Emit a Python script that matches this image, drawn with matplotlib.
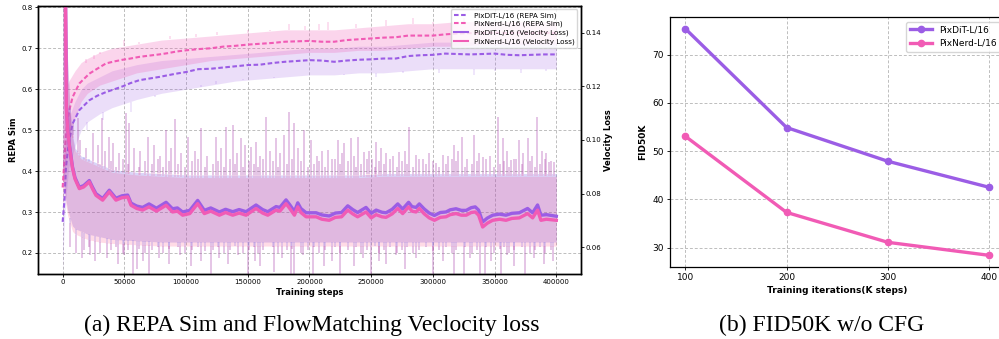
import numpy as np
import matplotlib
matplotlib.use("Agg")
import matplotlib.pyplot as plt
from matplotlib.lines import Line2D

# ---------------- data: panel (a) ----------------
repa_steps = [0, 1500, 2700, 4000, 5400, 8100, 13500, 21600, 28000, 35100,
              42000, 48600, 55000, 62100, 70000, 78300, 85000, 92000, 100000, 110000,
              120000, 130000, 140000, 150000, 160000, 170000, 180000, 190000, 200000, 210000,
              220000, 230000, 240000, 250000, 260000, 270000, 280000, 290000, 300000, 310000,
              320000, 330000, 340000, 350000, 360000, 370000, 380000, 390000, 400000]
pixnerd_repa = [0.360, 0.430, 0.492, 0.525, 0.549, 0.581, 0.614, 0.638, 0.650, 0.663,
                0.668, 0.672, 0.675, 0.679, 0.682, 0.685, 0.688, 0.692, 0.695, 0.698,
                0.700, 0.704, 0.706, 0.709, 0.711, 0.713, 0.716, 0.717, 0.718, 0.716,
                0.716, 0.720, 0.722, 0.724, 0.726, 0.727, 0.731, 0.731, 0.731, 0.734,
                0.736, 0.737, 0.737, 0.738, 0.737, 0.738, 0.737, 0.738, 0.737]
pixdit_repa = [0.276, 0.330, 0.410, 0.445, 0.476, 0.516, 0.549, 0.573, 0.584, 0.593,
               0.600, 0.607, 0.615, 0.622, 0.626, 0.630, 0.634, 0.638, 0.642, 0.649,
               0.650, 0.653, 0.656, 0.659, 0.660, 0.664, 0.667, 0.669, 0.671, 0.670,
               0.667, 0.670, 0.672, 0.673, 0.675, 0.675, 0.681, 0.683, 0.684, 0.687,
               0.686, 0.685, 0.686, 0.687, 0.684, 0.683, 0.684, 0.685, 0.685]

repa_band_steps = [0, 1000, 2500, 5000, 10000, 15000, 20000, 30000, 40000, 60000,
                   80000, 100000, 120000, 140000, 160000, 180000, 200000, 220000, 240000,
                   260000, 280000, 300000, 320000, 340000, 360000, 380000, 400000]
pixnerd_repa_hi = [0.40, 0.55, 0.60, 0.62, 0.645, 0.665, 0.675, 0.69, 0.70, 0.71,
                   0.72, 0.725, 0.73, 0.735, 0.74, 0.745, 0.745, 0.745, 0.75,
                   0.755, 0.76, 0.76, 0.765, 0.765, 0.765, 0.765, 0.765]
pixnerd_repa_lo = [0.30, 0.35, 0.42, 0.50, 0.53, 0.57, 0.59, 0.61, 0.62, 0.64,
                   0.65, 0.66, 0.67, 0.675, 0.68, 0.685, 0.69, 0.69, 0.695,
                   0.695, 0.70, 0.705, 0.705, 0.71, 0.71, 0.71, 0.71]
pixdit_repa_hi = [0.30, 0.42, 0.48, 0.53, 0.57, 0.60, 0.615, 0.63, 0.645, 0.66,
                  0.67, 0.675, 0.68, 0.685, 0.69, 0.695, 0.70, 0.70, 0.705,
                  0.705, 0.71, 0.715, 0.715, 0.715, 0.715, 0.715, 0.715]
pixdit_repa_lo = [0.15, 0.25, 0.33, 0.41, 0.46, 0.50, 0.52, 0.54, 0.555, 0.575,
                  0.59, 0.60, 0.61, 0.62, 0.625, 0.63, 0.635, 0.635, 0.64,
                  0.64, 0.645, 0.65, 0.65, 0.65, 0.65, 0.65, 0.65]

pixnerd_repa_spike_steps = [19000, 25000, 30000, 50000, 62000, 87000, 108000, 125000, 150000, 168000,
                            183000, 196000, 208000, 215000, 238000, 262000, 284000, 300000, 325000]
pixnerd_repa_spike_vals = [0.665, 0.675, 0.685, 0.72, 0.715, 0.73, 0.735, 0.74, 0.745, 0.745,
                           0.76, 0.755, 0.76, 0.765, 0.76, 0.77, 0.775, 0.765, 0.775]
pixdit_repa_spike_steps = [20000, 33000, 55000, 75000, 94000, 112000, 124000, 146000, 171000,
                           199000, 228000, 254000, 276000, 305000, 333000, 350000, 371000, 392000]
pixdit_repa_spike_vals = [0.50, 0.525, 0.545, 0.58, 0.60, 0.61, 0.62, 0.625, 0.63,
                          0.635, 0.635, 0.63, 0.64, 0.64, 0.635, 0.645, 0.64, 0.645]

loss_steps = [0, 1500, 3000, 4000, 5500, 8000, 10000, 13500, 17000, 21600,
              24000, 27000, 32400, 37800, 43200, 48000, 52700, 55400, 60000, 64800,
              70000, 76000, 83800, 89000, 93000, 97200, 103000, 109400, 114800, 120000,
              127000, 132000, 137800, 143000, 148600, 156700, 162000, 166200, 172900, 176000,
              181000, 184000, 187800, 190500, 193000, 197300, 205400, 210000, 216000, 221000,
              226000, 231000, 235000, 239000, 245800, 250000, 254000, 258700, 262000, 267000,
              271500, 275500, 280300, 283000, 286300, 289000, 293000, 297000, 301200, 306000,
              310600, 314000, 318700, 323000, 327000, 331000, 334300, 337000, 340300, 344000,
              348400, 354000, 359200, 364000, 370000, 376700, 380800, 384800, 387500, 392000,
              400000]
pixnerd_loss = [0.300, 0.200, 0.112, 0.104, 0.0975, 0.0894, 0.0855, 0.0819, 0.0825, 0.0844,
                0.0820, 0.0794, 0.0776, 0.0807, 0.0776, 0.0785, 0.0788, 0.0757, 0.0745, 0.0739,
                0.0751, 0.0735, 0.0757, 0.0732, 0.0735, 0.0720, 0.0726, 0.0763, 0.0726, 0.0735,
                0.0720, 0.0730, 0.0720, 0.0728, 0.0720, 0.0745, 0.0728, 0.0720, 0.0739, 0.0735,
                0.0763, 0.0745, 0.0720, 0.0751, 0.0730, 0.0714, 0.0714, 0.0705, 0.0701, 0.0712,
                0.0714, 0.0739, 0.0725, 0.0714, 0.0732, 0.0710, 0.0722, 0.0714, 0.0712, 0.0725,
                0.0745, 0.0726, 0.0751, 0.0735, 0.0732, 0.0745, 0.0725, 0.0710, 0.0701, 0.0712,
                0.0714, 0.0722, 0.0726, 0.0720, 0.0720, 0.0730, 0.0732, 0.0720, 0.0676, 0.0690,
                0.0701, 0.0705, 0.0701, 0.0708, 0.0710, 0.0726, 0.0710, 0.0739, 0.0701, 0.0705,
                0.0701]
pixdit_loss = [0.300, 0.205, 0.113, 0.1045, 0.098, 0.0899, 0.0860, 0.0824, 0.0830, 0.0849,
               0.0826, 0.0800, 0.0782, 0.0813, 0.0783, 0.0792, 0.0795, 0.0765, 0.0754, 0.0749,
               0.0762, 0.0746, 0.0768, 0.0744, 0.0747, 0.0732, 0.0738, 0.0775, 0.0738, 0.0747,
               0.0732, 0.0742, 0.0733, 0.0741, 0.0733, 0.0758, 0.0741, 0.0733, 0.0752, 0.0749,
               0.0777, 0.0759, 0.0734, 0.0766, 0.0745, 0.0729, 0.0729, 0.0721, 0.0717, 0.0728,
               0.0730, 0.0755, 0.0741, 0.0730, 0.0749, 0.0727, 0.0739, 0.0731, 0.0729, 0.0742,
               0.0762, 0.0743, 0.0768, 0.0752, 0.0749, 0.0762, 0.0743, 0.0728, 0.0719, 0.0730,
               0.0732, 0.0740, 0.0744, 0.0738, 0.0738, 0.0748, 0.0751, 0.0739, 0.0695, 0.0709,
               0.0720, 0.0724, 0.0720, 0.0727, 0.0729, 0.0745, 0.0729, 0.0758, 0.0720, 0.0722,
               0.0716]

loss_band_steps = [0, 1000, 2500, 4000, 6000, 8000, 10000, 15000, 20000, 30000,
                   40000, 60000, 80000, 100000, 120000, 140000, 160000, 180000, 200000, 220000,
                   240000, 260000, 280000, 300000, 320000, 340000, 360000, 380000, 400000]
pixdit_loss_hi = [0.16, 0.16, 0.16, 0.13, 0.112, 0.102, 0.097, 0.094, 0.093, 0.091,
                  0.089, 0.088, 0.0875, 0.087, 0.087, 0.087, 0.087, 0.087, 0.087, 0.087,
                  0.087, 0.0875, 0.0875, 0.0875, 0.0875, 0.0875, 0.0875, 0.0875, 0.0875]
pixdit_loss_lo = [0.09, 0.085, 0.078, 0.074, 0.071, 0.068, 0.067, 0.066, 0.065, 0.064,
                  0.063, 0.0625, 0.062, 0.062, 0.062, 0.062, 0.062, 0.062, 0.062, 0.062,
                  0.062, 0.062, 0.062, 0.062, 0.062, 0.062, 0.062, 0.062, 0.062]
pixnerd_loss_hi = [0.16, 0.16, 0.16, 0.128, 0.110, 0.101, 0.096, 0.093, 0.092, 0.090,
                   0.088, 0.087, 0.0865, 0.086, 0.086, 0.086, 0.086, 0.086, 0.086, 0.086,
                   0.086, 0.0865, 0.0865, 0.0865, 0.0865, 0.0865, 0.0865, 0.0865, 0.0865]
pixnerd_loss_lo = [0.088, 0.083, 0.076, 0.072, 0.069, 0.066, 0.065, 0.064, 0.063, 0.062,
                   0.0615, 0.061, 0.0605, 0.0605, 0.0605, 0.0605, 0.0605, 0.0605, 0.0605, 0.0605,
                   0.0605, 0.0605, 0.0605, 0.0605, 0.0605, 0.0605, 0.0605, 0.0605, 0.0605]

# tall spikes of the raw loss curves
loss_up_steps = [8100, 12200, 24300, 31900, 37800, 51400, 54100, 68900, 83800, 91300,
                 101300, 112100, 124300, 132400, 137800, 144500, 152700, 156700, 164800, 172900,
                 179700, 183700, 187800, 195900, 201300, 214800, 222900, 228300, 233700, 239100,
                 244500, 254000, 258000, 272900, 281000, 286400, 302600, 308000, 317400, 323700,
                 333600, 340400, 352500, 356600, 363400, 370100, 376800, 384100, 394400, 398500]
loss_up_vals = [0.1062, 0.1081, 0.1025, 0.1081, 0.1012, 0.1100, 0.1062, 0.1012, 0.1037, 0.1077,
                0.1012, 0.1043, 0.1012, 0.1050, 0.1056, 0.1006, 0.0975, 0.0994, 0.1087, 0.1006,
                0.1018, 0.1106, 0.1062, 0.1037, 0.1000, 0.0963, 0.1000, 0.0987, 0.1006, 0.1012,
                0.0956, 0.0994, 0.0969, 0.0956, 0.1050, 0.0944, 0.0913, 0.0944, 0.0981, 0.1012,
                0.1018, 0.0938, 0.1087, 0.1006, 0.0925, 0.1000, 0.1006, 0.1087, 0.0919, 0.0919]
# medium spikes
loss_mid_steps = [14000, 19000, 28500, 34500, 41000, 46000, 58000, 63000, 74000, 79000,
                  88000, 96000, 107000, 117000, 128000, 141000, 148000, 160000, 168000, 176000,
                  191000, 206000, 210000, 218000, 226000, 236000, 248000, 251000, 262000, 268000,
                  277000, 292000, 297000, 312000, 320000, 328000, 337000, 346000, 360000, 367000,
                  373000, 380000, 388000, 392000]
loss_mid_vals = [0.100, 0.097, 0.098, 0.096, 0.099, 0.095, 0.097, 0.096, 0.098, 0.094,
                 0.097, 0.095, 0.096, 0.094, 0.097, 0.095, 0.098, 0.094, 0.096, 0.095,
                 0.097, 0.094, 0.096, 0.093, 0.095, 0.094, 0.096, 0.093, 0.095, 0.094,
                 0.096, 0.093, 0.095, 0.094, 0.096, 0.093, 0.095, 0.094, 0.096, 0.093,
                 0.095, 0.094, 0.096, 0.095]
# short spikes along both edges of the raw loss band
loss_short_steps = [6000, 17500, 21000, 30000, 39500, 43500, 48500, 53000, 61500, 66500,
                    72000, 77000, 81500, 86000, 93500, 99000, 104500, 110000, 115500, 121500,
                    126000, 130500, 135500, 139500, 146500, 151000, 155000, 158500, 162500, 170500,
                    174500, 181500, 186000, 193500, 198500, 204000, 208000, 212500, 220500, 224500,
                    231500, 238000, 242000, 246500, 253000, 256500, 260500, 265000, 270500, 275000,
                    279000, 283500, 289000, 294500, 300000, 305000, 310500, 315500, 319000, 326000,
                    331500, 335500, 343000, 349500, 354500, 358000, 362000, 365500, 372000, 378500,
                    382500, 386500, 390500, 396000]
loss_short_up_vals = [0.095, 0.093, 0.092, 0.091, 0.092, 0.090, 0.093, 0.091, 0.090, 0.092,
                      0.091, 0.093, 0.090, 0.092, 0.091, 0.090, 0.092, 0.093, 0.090, 0.091,
                      0.092, 0.090, 0.093, 0.091, 0.090, 0.092, 0.091, 0.090, 0.093, 0.092,
                      0.090, 0.091, 0.093, 0.092, 0.090, 0.091, 0.092, 0.090, 0.093, 0.091,
                      0.092, 0.090, 0.091, 0.093, 0.090, 0.092, 0.091, 0.093, 0.090, 0.092,
                      0.091, 0.090, 0.093, 0.091, 0.092, 0.090, 0.091, 0.093, 0.092, 0.090,
                      0.091, 0.092, 0.093, 0.090, 0.091, 0.092, 0.090, 0.093, 0.091, 0.092,
                      0.090, 0.091, 0.093, 0.092]
loss_short_dn_vals = [0.060, 0.059, 0.060, 0.058, 0.059, 0.060, 0.058, 0.059, 0.0595, 0.058,
                      0.059, 0.060, 0.058, 0.0595, 0.060, 0.058, 0.059, 0.060, 0.0585, 0.059,
                      0.060, 0.058, 0.059, 0.0605, 0.058, 0.059, 0.060, 0.058, 0.059, 0.060,
                      0.058, 0.059, 0.0595, 0.058, 0.059, 0.060, 0.058, 0.059, 0.060, 0.058,
                      0.059, 0.060, 0.058, 0.059, 0.0605, 0.058, 0.059, 0.060, 0.058, 0.059,
                      0.060, 0.058, 0.059, 0.060, 0.0585, 0.059, 0.060, 0.058, 0.059, 0.060,
                      0.058, 0.059, 0.060, 0.058, 0.0595, 0.060, 0.058, 0.059, 0.060, 0.058,
                      0.059, 0.060, 0.058, 0.059]
loss_dn_steps = [16000, 26000, 45000, 56800, 60000, 70000, 86000, 104000, 120000, 134000,
                 150000, 160000, 171000, 185000, 187500, 203000, 212000, 225000, 236000, 250000,
                 262000, 277000, 300000, 317000, 325000, 338000, 342000, 355000, 366000, 375000,
                 390000, 11000, 22000, 36000, 50000, 65000, 78000, 95000, 112000, 127000,
                 142000, 156000, 178000, 195000, 218000, 243000, 256000, 270000, 286000, 308000,
                 330000, 347000, 360000, 382000, 397000]
loss_dn_vals = [0.056, 0.055, 0.054, 0.049, 0.052, 0.049, 0.054, 0.053, 0.049, 0.054,
                0.050, 0.053, 0.051, 0.049, 0.049, 0.050, 0.053, 0.049, 0.053, 0.049,
                0.054, 0.052, 0.049, 0.049, 0.050, 0.049, 0.049, 0.050, 0.053, 0.049,
                0.054, 0.058, 0.057, 0.056, 0.057, 0.055, 0.056, 0.057, 0.055, 0.056,
                0.057, 0.055, 0.056, 0.057, 0.055, 0.056, 0.055, 0.057, 0.056, 0.055,
                0.056, 0.055, 0.057, 0.056, 0.055]

# ---------------- data: panel (b) ----------------
iters_k = [100, 200, 300, 400]
fid_pixdit = [75.4, 54.9, 47.9, 42.5]
fid_pixnerd = [53.1, 37.3, 31.1, 28.4]

# ---------------- style ----------------
PURPLE = "#9b5de5"
PINK = "#f15bb5"
RAW_PURPLE = "#7a6ae6"
RAW_PINK = "#ff2a6d"
GRID = dict(color="#bdbdbd", linestyle=(0, (3, 2)), linewidth=0.7)

fig = plt.figure(figsize=(9.99, 3.39), dpi=100)

# ---------- panel (a) ----------
ax1 = fig.add_axes([0.038, 0.1909, 0.5436, 0.7923])
ax2 = ax1.twinx()

A_REPA_PUR, A_REPA_PINK = 0.2, 0.25
ax1.fill_between(repa_band_steps, pixdit_repa_lo, pixdit_repa_hi, color=PURPLE, alpha=A_REPA_PUR, lw=0)
ax1.fill_between(repa_band_steps, pixnerd_repa_lo, pixnerd_repa_hi, color=PINK, alpha=A_REPA_PINK, lw=0)
ax1.vlines(pixnerd_repa_spike_steps, np.interp(pixnerd_repa_spike_steps, repa_band_steps, pixnerd_repa_hi),
           pixnerd_repa_spike_vals, color=PINK, alpha=A_REPA_PINK, lw=1.1)
ax1.vlines(pixdit_repa_spike_steps, np.interp(pixdit_repa_spike_steps, repa_band_steps, pixdit_repa_lo),
           pixdit_repa_spike_vals, color=PURPLE, alpha=A_REPA_PUR, lw=1.1)
ax1.plot(repa_steps, pixdit_repa, color=PURPLE, lw=1.5, dashes=(2.2, 1.2))
ax1.plot(repa_steps, pixnerd_repa, color=PINK, lw=1.5, dashes=(2.2, 1.2))

A_LOSS_PUR, A_LOSS_PINK = 0.28, 0.17
ax2.fill_between(loss_band_steps, pixdit_loss_lo, pixdit_loss_hi, color=RAW_PURPLE, alpha=A_LOSS_PUR, lw=0)
ax2.fill_between(loss_band_steps, pixnerd_loss_lo, pixnerd_loss_hi, color=RAW_PINK, alpha=A_LOSS_PINK, lw=0)
for col, a, hi, lo in ((RAW_PURPLE, A_LOSS_PUR, pixdit_loss_hi, pixdit_loss_lo),
                       (RAW_PINK, A_LOSS_PINK, pixnerd_loss_hi, pixnerd_loss_lo)):
    for st, vals in ((loss_up_steps, loss_up_vals), (loss_mid_steps, loss_mid_vals),
                     (loss_short_steps, loss_short_up_vals)):
        ax2.vlines(st, np.interp(st, loss_band_steps, hi), vals, color=col, alpha=a, lw=1.1)
    for st, vals in ((loss_dn_steps, loss_dn_vals), (loss_short_steps, loss_short_dn_vals)):
        ax2.vlines(st, vals, np.interp(st, loss_band_steps, lo), color=col, alpha=a, lw=1.1)
ax2.plot(loss_steps, pixdit_loss, color=PURPLE, lw=2.4)
ax2.plot(loss_steps, pixnerd_loss, color=PINK, lw=2.4)

ax1.set_xlim(-20000, 420000)
ax1.set_ylim(0.148, 0.804)
ax2.set_ylim(0.050, 0.150)
ax1.set_xticks([0, 50000, 100000, 150000, 200000, 250000, 300000, 350000, 400000])
ax1.set_yticks([0.2, 0.3, 0.4, 0.5, 0.6, 0.7, 0.8])
ax2.set_yticks([0.06, 0.08, 0.10, 0.12, 0.14])
ax1.set_yticklabels(["0.2", "0.3", "0.4", "0.5", "0.6", "0.7", "0.8"])
ax2.set_yticklabels(["0.06", "0.08", "0.10", "0.12", "0.14"])
ax1.grid(True, **GRID)
ax1.set_axisbelow(True)
for a in (ax1, ax2):
    a.tick_params(labelsize=5, length=2, width=0.6, pad=1.5)
    for s in a.spines.values():
        s.set_linewidth(1.0)
ax1.set_xlabel("Training steps", fontsize=6, fontweight="bold", labelpad=2)
ax1.set_ylabel("REPA Sim", fontsize=6, fontweight="bold", labelpad=2.5)
ax2.set_ylabel("Velocity Loss", fontsize=6, fontweight="bold", labelpad=2)

handles = [Line2D([], [], color=PURPLE, lw=1.5, dashes=(2.2, 1.2)),
           Line2D([], [], color=PINK, lw=1.5, dashes=(2.2, 1.2)),
           Line2D([], [], color=PURPLE, lw=1.5),
           Line2D([], [], color=PINK, lw=1.5)]
labels = ["PixDiT-L/16 (REPA Sim)", "PixNerd-L/16 (REPA Sim)",
          "PixDiT-L/16 (Velocity Loss)", "PixNerd-L/16 (Velocity Loss)"]
ax2.legend(handles, labels, loc="upper right", fontsize=5.2, labelspacing=0.3,
           handlelength=2.0, framealpha=0.8, borderpad=0.4)

# ---------- panel (b) ----------
ax3 = fig.add_axes([0.6707, 0.2133, 0.3348, 0.7357])
ax3.plot(iters_k, fid_pixdit, color=PURPLE, lw=2.4, marker="o", ms=4.5, label="PixDiT-L/16")
ax3.plot(iters_k, fid_pixnerd, color=PINK, lw=2.4, marker="o", ms=4.5, label="PixNerd-L/16")
ax3.set_xticks([100, 200, 300, 400])
ax3.set_yticks([30, 40, 50, 60, 70])
ax3.grid(True, **GRID)
ax3.set_axisbelow(True)
ax3.tick_params(labelsize=6.5, length=2.3, width=0.6, pad=2.3)
for s in ax3.spines.values():
    s.set_linewidth(0.9)
ax3.set_xlabel("Training iterations(K steps)", fontsize=6.5, fontweight="bold", labelpad=3)
ax3.set_ylabel("FID50K", fontsize=6.5, fontweight="bold", labelpad=3.5)
ax3.legend(loc="upper right", fontsize=6.5, handlelength=2.4, framealpha=0.8)

# ---------- captions ----------
fig.text(312 / 999, 1 - 325 / 339, "(a) REPA Sim and FlowMatching Veclocity loss",
         family="Liberation Serif", fontsize=17, ha="center", va="center")
fig.text(822 / 999, 1 - 325 / 339, "(b) FID50K w/o CFG",
         family="Liberation Serif", fontsize=17, ha="center", va="center")

fig.savefig("out.png", dpi=100)
